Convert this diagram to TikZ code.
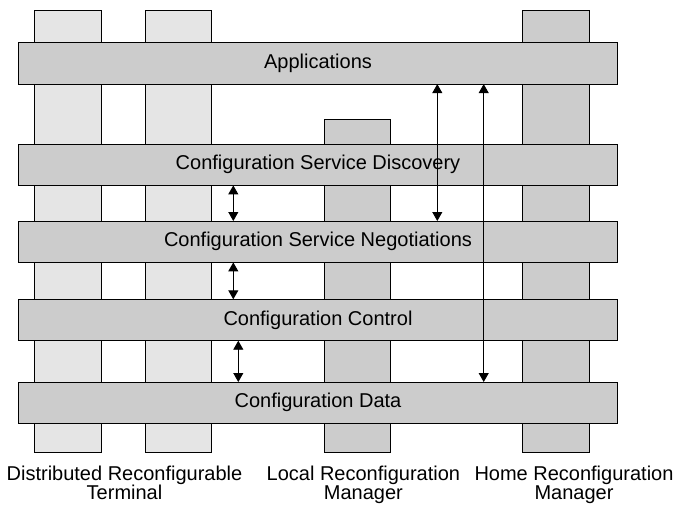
\documentclass[tikz,border=0pt]{standalone}
\usepackage{fontspec}
\setmainfont{Liberation Sans}
\usetikzlibrary{arrows.meta}
\definecolor{barlight}{gray}{0.90}
\definecolor{bardark}{gray}{0.80}
\begin{document}
\begin{tikzpicture}[x=1pt,y=-1pt,
  bar/.style={draw=black, line width=0.9pt, inner sep=0pt, outer sep=0pt, anchor=north west},
  column/.style={bar, minimum width=66.6pt},
  layer/.style={bar, fill=bardark, minimum width=599.4pt, minimum height=41.4pt,
    font=\fontsize{20}{24}\selectfont},
  link/.style={{Triangle[length=9pt,width=10pt]}-{Triangle[length=9pt,width=10pt]}, line width=0.9pt},
  caption/.style={anchor=north, align=center, inner sep=0pt, font=\fontsize{20}{19}\selectfont}]
\useasboundingbox (0,0) rectangle (678,506);

% vertical columns (the participating entities)
\node[column, fill=barlight, minimum height=442.3pt] (t1) at (34.7,10) {};
\node[column, fill=barlight, minimum height=442.3pt] (t2) at (145.3,10) {};
\node[column, fill=bardark, minimum height=333pt] (lrm) at (324.3,119.3) {};
\node[column, fill=bardark, minimum height=442.3pt] (hrm) at (522.7,10) {};

% horizontal layers
\node[layer] (app) at (18.3,42.7) {Applications};
\node[layer] (csd) at (18.3,144) {Configuration Service Discovery};
\node[layer] (csn) at (18.3,221) {Configuration Service Negotiations};
\node[layer] (cc)  at (18.3,299.3) {Configuration Control};
\node[layer] (cd)  at (18.3,382) {Configuration Data};

% x positions of the interaction arrows
\coordinate (k1) at (233.3,0);
\coordinate (k2) at (238.3,0);
\coordinate (k3) at (437.3,0);
\coordinate (k4) at (483.7,0);

\draw[link] (csd.south -| k1) -- (csn.north -| k1);
\draw[link] (csn.south -| k1) -- (cc.north -| k1);
\draw[link] (cc.south -| k2) -- (cd.north -| k2);
\draw[link] (app.south -| k3) -- (csn.north -| k3);
\draw[link] (app.south -| k4) -- (cd.north -| k4);

% captions under the columns
\node[caption] (lt) at (124.5,465.5) {Distributed Reconfigurable\\Terminal};
\node[caption] (ll) at (363.4,465.5) {Local Reconfiguration\\Manager};
\node[caption] (lh) at (574,465.5) {Home Reconfiguration\\Manager};
\end{tikzpicture}
\end{document}
